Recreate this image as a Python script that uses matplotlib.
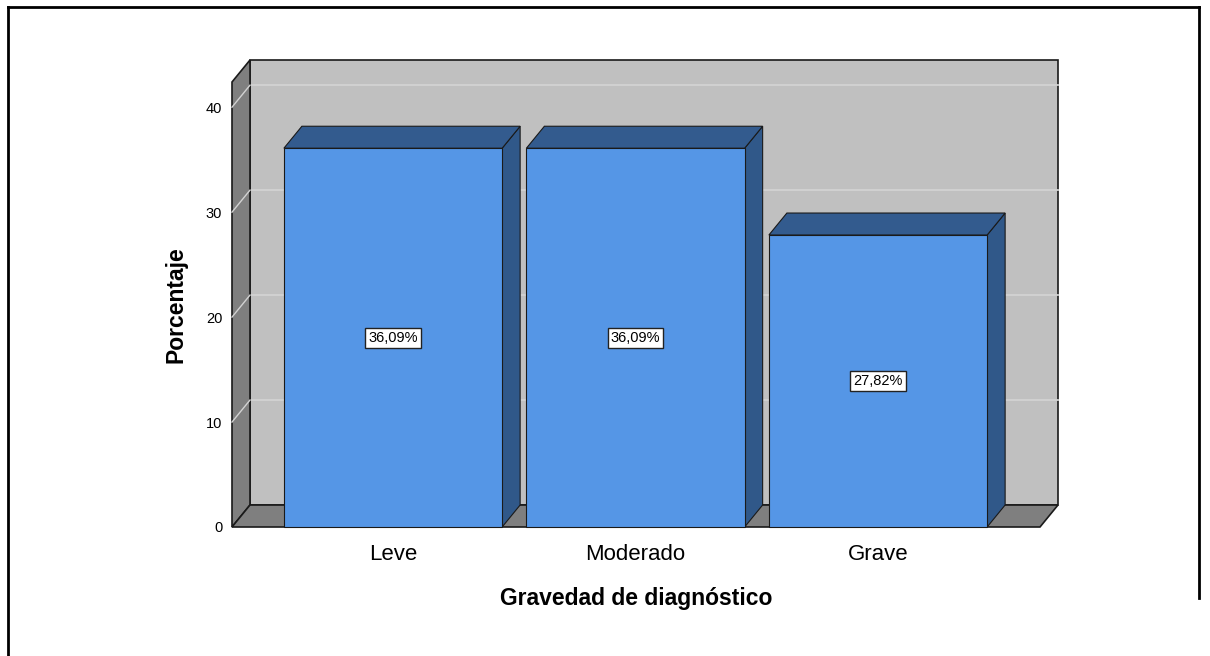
import matplotlib
matplotlib.use("Agg")
import matplotlib.pyplot as plt
from matplotlib.patches import Polygon, Rectangle
from matplotlib.lines import Line2D

plt.rcParams['font.family'] = ['Liberation Sans', 'DejaVu Sans']

categories = ['Leve', 'Moderado', 'Grave']
porcentajes = [36.09, 36.09, 27.82]
etiquetas = ['36,09%', '36,09%', '27,82%']
yticks = [0, 10, 20, 30, 40]

# geometry of the fake 3d box (data units)
XMIN, XMAX = -0.664, 2.668
YMAX = 42.4
DX, DY = 0.0742, 2.095
BAR_W = 0.9

front_col = '#5596e6'
top_col = '#335b8e'
side_col = '#305889'
wall_col = '#c0c0c0'
dark_col = '#7f7f7f'
grid_col = '#d2d2d2'
edge_col = '#1a1a1a'

fig = plt.figure(figsize=(12.1, 6.56), dpi=100)
ax = fig.add_axes([232/1210, 129/656, 808/1210, 445/656])
ax.set_xlim(XMIN, XMAX)
ax.set_ylim(0, YMAX)
for s in ax.spines.values():
    s.set_visible(False)
ax.patch.set_visible(False)

# back wall
ax.add_patch(Rectangle((XMIN + DX, DY), XMAX - XMIN, YMAX, facecolor=wall_col,
                       edgecolor=edge_col, lw=1.2, clip_on=False, zorder=1))
for t in yticks[1:]:
    ax.plot([XMIN + DX, XMAX + DX], [t + DY, t + DY], color=grid_col, lw=1.3,
            clip_on=False, zorder=2)

# left wall
ax.add_patch(Polygon([(XMIN, 0), (XMIN + DX, DY), (XMIN + DX, YMAX + DY), (XMIN, YMAX)],
                     closed=True, facecolor=dark_col, edgecolor=edge_col, lw=1.2,
                     clip_on=False, zorder=3))
for t in yticks[1:]:
    ax.plot([XMIN, XMIN + DX], [t, t + DY], color=grid_col, lw=1.0,
            clip_on=False, zorder=4)

# floor
ax.add_patch(Polygon([(XMIN, 0), (XMAX, 0), (XMAX + DX, DY), (XMIN + DX, DY)],
                     closed=True, facecolor=dark_col, edgecolor=edge_col, lw=1.2,
                     clip_on=False, zorder=3))

# bars
for i, (h, lab) in enumerate(zip(porcentajes, etiquetas)):
    x0 = i - BAR_W / 2
    x1 = i + BAR_W / 2
    ax.add_patch(Polygon([(x1, 0), (x1 + DX, DY), (x1 + DX, h + DY), (x1, h)],
                         closed=True, facecolor=side_col, edgecolor=edge_col, lw=0.8,
                         clip_on=False, zorder=5))
    ax.add_patch(Polygon([(x0, h), (x1, h), (x1 + DX, h + DY), (x0 + DX, h + DY)],
                         closed=True, facecolor=top_col, edgecolor=edge_col, lw=0.8,
                         clip_on=False, zorder=5))
    ax.add_patch(Rectangle((x0, 0), BAR_W, h, facecolor=front_col,
                           edgecolor=edge_col, lw=0.8, clip_on=False, zorder=6))
    ax.text(i, h / 2, lab, ha='center', va='center', fontsize=10.5, zorder=7,
            bbox=dict(boxstyle='square,pad=0.2', facecolor='white',
                      edgecolor='#222222', lw=1.0))

ax.set_yticks(yticks)
ax.set_yticklabels([str(t) for t in yticks])
ax.set_xticks(range(len(categories)))
ax.set_xticklabels(categories)
ax.tick_params(axis='y', length=0, pad=7, labelsize=10.5)
ax.tick_params(axis='x', length=0, pad=12, labelsize=16)
ax.set_xlabel('Gravedad de diagnóstico', fontsize=16.5, fontweight='bold', labelpad=16)
ax.set_ylabel('Porcentaje', fontsize=16.5, fontweight='bold', labelpad=13)

# outer frame
fig.add_artist(Line2D([8/1210, 8/1210], [0, 1 - 7/656], color='black', lw=2))
fig.add_artist(Line2D([8/1210, 1199/1210], [1 - 7/656, 1 - 7/656], color='black', lw=2))
fig.add_artist(Line2D([1199/1210, 1199/1210], [1 - 7/656, 58/656], color='black', lw=2))

fig.savefig('out.png', dpi=100)
